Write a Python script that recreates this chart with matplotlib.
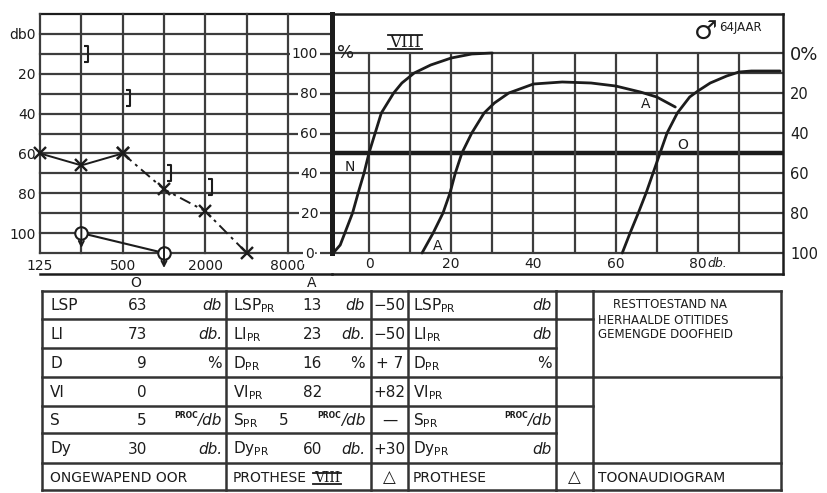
import matplotlib.pyplot as plt
from matplotlib.path import Path
from matplotlib.lines import Line2D
from matplotlib.transforms import offset_copy

W, H = 827, 493

# toonaudiogram: drempels in dB per frequentie
freqs = [125, 250, 500, 1000, 2000, 4000, 8000]
freq_ticks = [125, 500, 2000, 8000]
air_freq = [125, 250, 500, 1000, 2000, 4000]
air_db = [60, 66, 60, 78, 89, 110]
bone_freq = [250, 500, 1000, 2000]
bone_db = [10, 32, 70, 77]
noresp_freq = [250, 1000]
noresp_db = [100, 110]
db_ticks = [0, 20, 40, 60, 80, 100]
db_labels = ['db0', '20', '40', '60', '80', '100']

# spraakaudiogram: % verstaan tegen niveau in dB
n_db = [-8.7, -7, -5.5, -4, -2.5, -1.2, 0, 1.5, 3, 6, 8, 11, 15, 20, 25, 30]
n_pct = [0, 4, 12, 20, 31, 40, 50, 60, 70, 80, 85, 90, 94, 97.5, 99.5, 100]
a_db = [12.9, 15.6, 18, 19.7, 21, 22.6, 25, 28, 30.5, 34, 40, 47, 54, 60, 66, 70, 74.5]
a_pct = [0, 10, 20, 30, 40, 50, 60, 70, 75, 80, 84.5, 85.5, 85, 83.5, 80.5, 78, 73]
o_db = [61.6, 63.5, 65.5, 67.4, 69.1, 70.8, 72.5, 75, 78, 80, 83, 87, 90, 93, 100]
o_pct = [0, 10, 20, 30, 40, 50, 60, 70, 78, 81, 85, 88.5, 90.5, 91, 91]
pct_ticks = [0, 20, 40, 60, 80, 100]
speech_ticks = [0, 20, 40, 60, 80]

# uitslagen
row_names = ['LSP', 'LI', 'D', 'VI', 'S', 'Dy']
val_o = ['63', '73', '9', '0', '5', '30']
unit_o = ['db', 'db.', '%', '', 'PROC', 'db.']
val_a = ['13', '23', '16', '82', '5', '60']
unit_a = ['db', 'db.', '%', '', 'PROC', 'db.']
diff = ['\u221250', '\u221250', '+ 7', '+82', '\u2014', '+30']
unit_p = ['db', 'db', '%', '', 'PROC', 'db']
diagnosis = ['RESTTOESTAND NA', 'HERHAALDE OTITIDES', 'GEMENGDE DOOFHEID']
footer = ['ONGEWAPEND OOR', 'PROTHESE', '\u25b3', 'PROTHESE', '\u25b3', 'TOONAUDIOGRAM']

ink = '#1c1c1c'
grid = '#3c3c3c'
plt.rcParams['font.family'] = ['DejaVu Sans']
plt.rcParams['text.color'] = ink

fig = plt.figure(figsize=(W / 100, H / 100), dpi=100)
fig.patch.set_facecolor('white')


def box(x0, y0, x1, y1):
    return [x0 / W, 1 - y1 / H, (x1 - x0) / W, (y1 - y0) / H]


romans = []


def roman(ax, x, y, size, transform=None):
    t = ax.text(x, y, 'VIII', fontsize=size, family='DejaVu Serif',
                ha='center', va='baseline', color=ink,
                transform=transform or ax.transData)
    romans.append(t)


# ---- toonaudiogram ----
ax_t = fig.add_axes(box(40, 14, 288, 253))
ax_t.set_xscale('log', base=2)
ax_t.set_xlim(125, 8000)
ax_t.set_ylim(110, -10)
for s in ax_t.spines.values():
    s.set_visible(False)
ext = (332 - 40) / 248
for db in range(-10, 111, 10):
    ax_t.axhline(db, 0, ext, color=ink if db == -10 else grid, lw=1.6,
                 clip_on=False, zorder=1)
for f in freqs:
    ax_t.axvline(f, color=grid, lw=1.6, clip_on=False, zorder=1)
ax_t.set_xticks(freq_ticks, [str(f) for f in freq_ticks])
ax_t.set_xticks([], minor=True)
ax_t.set_yticks(db_ticks, db_labels)
ax_t.tick_params(length=0, labelsize=10, colors=ink)
ax_t.tick_params(axis='y', pad=3)
ax_t.tick_params(axis='x', pad=4)

ax_t.plot(air_freq[:3], air_db[:3], color=ink, lw=1.4, marker='x', ms=8,
          mew=1.7, zorder=4, clip_on=False)
ax_t.plot(air_freq[2:], air_db[2:], color=ink, lw=1.4, ls=(0, (6, 2.5, 1.5, 2.5)),
          marker='x', ms=8, mew=1.7, zorder=4, clip_on=False)

bracket = Path([(0.45, 1), (0.95, 1), (0.95, -1), (0.45, -1)],
               [Path.MOVETO, Path.LINETO, Path.LINETO, Path.LINETO])
ax_t.plot(bone_freq, bone_db, ls='none', marker=bracket, ms=11, mew=1.5,
          mec=ink, mfc='none', zorder=4)

ax_t.plot(noresp_freq, noresp_db, color=ink, lw=1.5, zorder=4, clip_on=False)
ax_t.plot(noresp_freq, noresp_db, ls='none', marker='o', ms=9, mfc='white',
          mec=ink, mew=1.5, zorder=5, clip_on=False)
for f, db in zip(noresp_freq, noresp_db):
    ax_t.annotate('', xy=(f, db), xycoords=offset_copy(ax_t.transData, fig=fig, y=-15, units='dots'),
                  xytext=(f, db), textcoords=offset_copy(ax_t.transData, fig=fig, y=6, units='dots'),
                  arrowprops=dict(arrowstyle='->', lw=1.4, color=ink, shrinkA=0, shrinkB=0,
                                  mutation_scale=9), zorder=6, annotation_clip=False)

# ---- spraakaudiogram ----
ax_s = fig.add_axes(box(332, 14, 783, 274))
ax_s.set_xlim(-9.0, 100.7)
ax_s.set_ylim(-10.5, 119.5)
ax_s.patch.set_alpha(0)
for side in ['top', 'right', 'bottom']:
    ax_s.spines[side].set_linewidth(1.8)
    ax_s.spines[side].set_color(ink)
ax_s.spines['left'].set_linewidth(3.6)
ax_s.spines['left'].set_color(ink)
ax_s.spines['left'].set_bounds(0, 119.5)
ax_s.axhline(-10.5, -(332 - 40) / 451, 0, color=ink, lw=1.8, clip_on=False)
for p in range(0, 101, 10):
    ax_s.axhline(p, color=ink if p == 50 else grid, lw=3.2 if p == 50 else 1.6, zorder=1)
ax_s.vlines(range(0, 91, 10), 0, 100, color=grid, lw=1.6, zorder=1)

ax_s.set_xticks(speech_ticks, [str(v) for v in speech_ticks])
ax_s.tick_params(axis='x', length=0, pad=-12, labelsize=10, colors=ink)
ax_s.set_yticks(pct_ticks, ['0\u00b7'] + [str(v) for v in pct_ticks[1:]])
ax_s.tick_params(axis='y', length=0, pad=10, labelsize=10, colors=ink)
for lbl in ax_s.get_yticklabels():
    lbl.set_bbox(dict(facecolor='white', edgecolor='none', pad=1.5))
ax_s.annotate('db.', xy=(80, 0), xytext=(7, -7.5), textcoords='offset points',
              fontsize=9, style='italic', va='center', ha='left')

rest = ax_s.secondary_yaxis('right', functions=(lambda p: 100 - p, lambda p: 100 - p))
rest.set_yticks(pct_ticks, ['0%'] + [str(v) for v in pct_ticks[1:]])
rest.tick_params(length=0, pad=5, labelsize=10.5, colors=ink)
rest.spines['right'].set_visible(False)
rest.get_yticklabels()[0].set_fontsize(13)

curve = dict(color=ink, lw=2.0, solid_capstyle='round', solid_joinstyle='round', zorder=4)
ax_s.plot(n_db, n_pct, **curve)
ax_s.plot(a_db, a_pct, **curve)
ax_s.plot(o_db, o_pct, **curve)
ax_s.text(-4.6, 43, 'N', fontsize=10, ha='center', va='center')
ax_s.text(16.6, 3.5, 'A', fontsize=10, ha='center', va='center')
ax_s.text(67.2, 74.5, 'A', fontsize=10, ha='center', va='center')
ax_s.text(76.2, 54, 'O', fontsize=10, ha='center', va='center')
ax_s.text(-5.6, 100, '%', fontsize=13, ha='center', va='center')
roman(ax_s, 8.8, 103, 12)
ax_s.text(84.8, 110, '\u2642', fontsize=19, ha='right', va='center')
ax_s.text(85.2, 113, '64JAAR', fontsize=8.5, ha='left', va='center')

# ---- tabel ----
bg = fig.add_axes([0, 0, 1, 1], zorder=-1)
bg.set_xlim(0, W)
bg.set_ylim(H, 0)
bg.axis('off')

rows = [291, 319, 348, 377, 406, 433, 463, 490]
cols = [42, 226, 371, 408, 556, 593, 781]
tl = dict(color='#333333', lw=1.8)
for y in rows:
    bg.plot([42, 556], [y, y], **tl)
for y in [291, 319, 377, 406, 463, 490]:
    bg.plot([556, 593], [y, y], **tl)
for y in [291, 377, 463, 490]:
    bg.plot([593, 781], [y, y], **tl)
for x in cols:
    bg.plot([x, x], [291, 490], **tl)

mid = [(a + b) / 2 + 1 for a, b in zip(rows[:-1], rows[1:])]
fs = 11


def unit(x_right, y, u):
    if u == 'PROC':
        bg.text(x_right, y, '/db', fontsize=fs, ha='right', va='center', style='italic')
        bg.text(x_right - 24, y - 5, 'PROC', fontsize=5.5, ha='right', va='center',
                weight='bold')
    elif u:
        bg.text(x_right, y, u, fontsize=fs, ha='right', va='center',
                style='normal' if u == '%' else 'italic')


for i, name in enumerate(row_names):
    y = mid[i]
    bg.text(50, y, name, fontsize=fs, ha='left', va='center')
    bg.text(147, y, val_o[i], fontsize=fs, ha='right', va='center')
    unit(222, y, unit_o[i])
    bg.text(233, y, name + r'$_{\mathrm{PR}}$', fontsize=fs, ha='left', va='center')
    bg.text(288 if name == 'S' else 322, y, val_a[i], fontsize=fs, ha='right', va='center')
    unit(365, y, unit_a[i])
    bg.text(389.5, y, diff[i], fontsize=fs, ha='center', va='center')
    bg.text(413, y, name + r'$_{\mathrm{PR}}$', fontsize=fs, ha='left', va='center')
    unit(552, y, unit_p[i])

yb = mid[6]
bg.text(50, yb, footer[0], fontsize=10, ha='left', va='center')
bg.text(233, yb, footer[1], fontsize=10, ha='left', va='center')
roman(bg, 327, yb + 5, 10)
bg.text(389.5, yb, footer[2], fontsize=12, ha='center', va='center')
bg.text(413, yb, footer[3], fontsize=10, ha='left', va='center')
bg.text(574.5, yb, footer[4], fontsize=12, ha='center', va='center')
bg.text(598, yb, footer[5], fontsize=10, ha='left', va='center')

for k, line in enumerate(diagnosis):
    bg.text(613 if k == 0 else 598, 305 + 15 * k, line, fontsize=8.5, ha='left', va='center')

bg.text(136, 283, 'O', fontsize=10, ha='center', va='center')
bg.text(312, 283, 'A', fontsize=10, ha='center', va='center')

# streep boven en onder de romeinse cijfers
fig.canvas.draw()
r = fig.canvas.get_renderer()
for t in romans:
    bb = t.get_window_extent(r)
    for yy in (bb.y1 - 1, bb.y0 + 2):
        fig.add_artist(Line2D([(bb.x0 - 1) / W, (bb.x1 + 1) / W], [yy / H, yy / H],
                              transform=fig.transFigure, color=ink, lw=1.3))

fig.savefig('out.png', dpi=100, facecolor='white')
